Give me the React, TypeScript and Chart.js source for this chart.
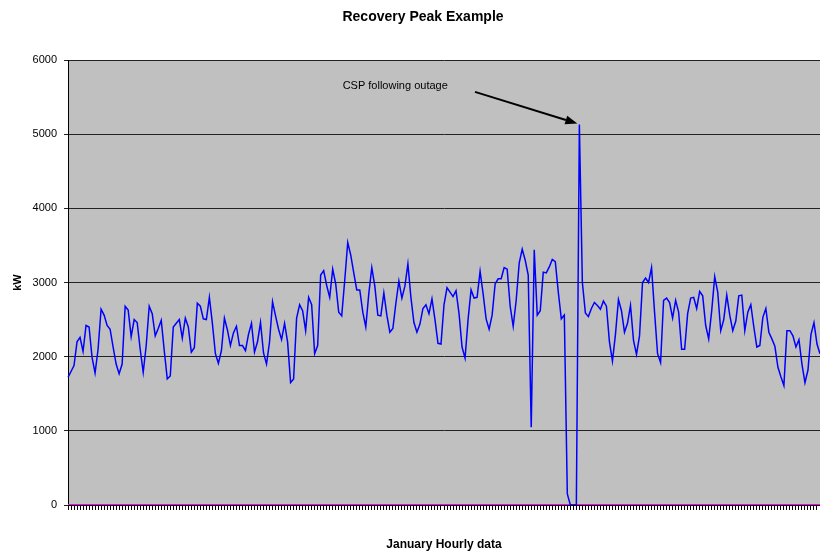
import React, { useEffect, useRef } from "react";
import { Chart, registerables } from "chart.js";

Chart.register(...registerables);

const TITLE = "Recovery Peak Example";
const Y_TITLE = "kW";
const X_TITLE = "January Hourly data";
const ANNOTATION_TEXT = "CSP following outage";

const Y_MIN = 0;
const Y_MAX = 6000;
const Y_STEP = 1000;

// Hourly load (kW), sampled roughly every 3 hours through January
const LOAD_KW = [
  1720, 1800, 1880, 2200, 2260, 2070, 2420, 2400, 1990, 1780,
  2100, 2640, 2560, 2420, 2370, 2130, 1900, 1770, 1900, 2680,
  2630, 2270, 2500, 2460, 2100, 1790, 2150, 2680, 2580, 2280,
  2380, 2490, 2080, 1700, 1740, 2400, 2450, 2500, 2250, 2520,
  2400, 2060, 2120, 2720, 2680, 2510, 2500, 2800, 2450, 2040,
  1910, 2080, 2520, 2360, 2150, 2320, 2410, 2150, 2150, 2080,
  2300, 2450, 2060,
  2200, 2460, 2050, 1900, 2200, 2740, 2550, 2370, 2230, 2450,
  2200, 1650, 1700, 2520, 2700, 2620, 2350, 2800, 2700, 2040,
  2150, 3100, 3160, 2960, 2800, 3180, 2980, 2600, 2550, 3030,
  3540, 3370, 3130, 2900, 2900, 2600, 2400, 2850, 3200, 2950,
  2560, 2550, 2860, 2560, 2330, 2380, 2720, 3020, 2790, 2950,
  3250, 2800, 2460, 2330, 2440, 2650, 2700, 2580, 2780, 2500,
  2180, 2170, 2700,
  2930, 2870, 2810, 2890, 2580, 2130, 1980, 2500, 2900, 2790,
  2800, 3150, 2850, 2510, 2370, 2560, 2980, 3050, 3050, 3200,
  3180, 2680, 2410, 2760, 3260, 3450, 3300, 3100, 1050, 3440,
  2560, 2620, 3140, 3130, 3210, 3310, 3280, 2870, 2510, 2560,
  150, 0, 0, 0, 5130, 3000, 2590, 2540, 2650, 2730,
  2690, 2640, 2750, 2680, 2200, 1940, 2300, 2770, 2620, 2330,
  2450, 2690, 2220,
  2030, 2280, 3000, 3060, 3000, 3200, 2600, 2040, 1920, 2760,
  2790, 2730, 2520, 2760, 2600, 2100, 2100, 2580, 2790, 2800,
  2650, 2880, 2820, 2420, 2240, 2620, 3080, 2870, 2350, 2500,
  2830, 2560, 2350, 2480, 2820, 2830, 2350, 2600, 2700, 2400,
  2130, 2150, 2530, 2650, 2330, 2240, 2140, 1860, 1730, 1610,
  2350, 2350, 2280, 2130, 2230, 1900, 1650, 1820, 2300, 2460,
  2170, 2040,
];

// Second series drawn along the zero line
const OUTAGE_KW = [
  0,0,0,0,0,0,0,0,0,0,0,0,0,0,0,0,0,0,0,0,0,0,0,0,0,0,0,0,0,0,0,0,0,0,0,0,0,0,0,0,0,0,
  0,0,0,0,0,0,0,0,0,0,0,0,0,0,0,0,0,0,0,0,0,0,0,0,0,0,0,0,0,0,0,0,0,0,0,0,0,0,0,0,0,0,
  0,0,0,0,0,0,0,0,0,0,0,0,0,0,0,0,0,0,0,0,0,0,0,0,0,0,0,0,0,0,0,0,0,0,0,0,0,0,0,0,0,0,
  0,0,0,0,0,0,0,0,0,0,0,0,0,0,0,0,0,0,0,0,0,0,0,0,0,0,0,0,0,0,0,0,0,0,0,0,0,0,0,0,0,0,
  0,0,0,0,0,0,0,0,0,0,0,0,0,0,0,0,0,0,0,0,0,0,0,0,0,0,0,0,0,0,0,0,0,0,0,0,0,0,0,0,0,0,
  0,0,0,0,0,0,0,0,0,0,0,0,0,0,0,0,0,0,0,0,0,0,0,0,0,0,0,0,0,0,0,0,0,0,0,0,0,0,0,0,0,0,
];

// Category labels (sample index of the hourly record)
const HOURS = LOAD_KW.map((_, i) => String(i + 1));

// Annotation anchors, in data units (category index, kW)
const PEAK_INDEX = 170;
const ARROW_FROM_INDEX = 135.3;
const ARROW_FROM_KW = 5570;
const LABEL_INDEX = 91.3;
const LABEL_KW = 5655;

const FONT = '"Liberation Sans", Arial, Helvetica, sans-serif';

export default function App() {
  const ref = useRef<HTMLCanvasElement>(null);

  useEffect(() => {
    const canvas = ref.current;
    if (!canvas) return;

    const plotBg = {
      id: "plotBg",
      beforeDraw(chart: any) {
        const { ctx, chartArea: a } = chart;
        ctx.save();
        ctx.fillStyle = "#C0C0C0";
        ctx.fillRect(a.left, a.top, a.right - a.left, a.bottom - a.top);
        ctx.restore();
      },
    };

    const overlay = {
      id: "overlay",
      afterDraw(chart: any) {
        const { ctx } = chart;
        const xs = chart.scales.x;
        const ys = chart.scales.y;
        ctx.save();
        // title
        ctx.fillStyle = "#000";
        ctx.font = `bold 14px ${FONT}`;
        ctx.textAlign = "center";
        ctx.textBaseline = "middle";
        ctx.fillText(TITLE, 423, 17);

        // annotation text
        ctx.font = `11px ${FONT}`;
        ctx.textAlign = "left";
        ctx.fillText(
          ANNOTATION_TEXT,
          xs.getPixelForValue(LABEL_INDEX),
          ys.getPixelForValue(LABEL_KW)
        );

        // arrow
        const sx = xs.getPixelForValue(ARROW_FROM_INDEX);
        const sy = ys.getPixelForValue(ARROW_FROM_KW);
        const tx = xs.getPixelForValue(PEAK_INDEX) - 2;
        const ty = ys.getPixelForValue(LOAD_KW[PEAK_INDEX]) - 1;
        const ang = Math.atan2(ty - sy, tx - sx);
        const headLen = 12;
        const headHalf = 4.5;
        const bx = tx - headLen * Math.cos(ang);
        const by = ty - headLen * Math.sin(ang);
        ctx.strokeStyle = "#000";
        ctx.lineWidth = 2;
        ctx.beginPath();
        ctx.moveTo(sx, sy);
        ctx.lineTo(bx, by);
        ctx.stroke();
        ctx.beginPath();
        ctx.moveTo(tx, ty);
        ctx.lineTo(bx + headHalf * Math.sin(ang), by - headHalf * Math.cos(ang));
        ctx.lineTo(bx - headHalf * Math.sin(ang), by + headHalf * Math.cos(ang));
        ctx.closePath();
        ctx.fill();
        ctx.restore();
      },
    };

    const chart = new Chart(canvas, {
      type: "line",
      data: {
        labels: HOURS,
        datasets: [
          {
            label: "Load",
            data: LOAD_KW,
            borderColor: "#0000FF",
            backgroundColor: "#0000FF",
            borderWidth: 1.5,
            pointRadius: 0,
            tension: 0,
            fill: false,
          },
          {
            label: "Outage",
            data: OUTAGE_KW,
            borderColor: "#FF00FF",
            backgroundColor: "#FF00FF",
            borderWidth: 2,
            pointRadius: 0,
            tension: 0,
            fill: false,
          },
        ],
      },
      options: {
        animation: false,
        responsive: false,
        maintainAspectRatio: false,
        devicePixelRatio: 1,
        layout: { padding: { top: 60, left: 0, right: 0, bottom: 0 } },
        plugins: {
          legend: { display: false },
          title: { display: false },
          tooltip: { enabled: false },
        },
        scales: {
          x: {
            type: "category",
            offset: false,
            grid: {
              display: true,
              drawOnChartArea: false,
              drawTicks: true,
              tickLength: 5,
              color: "#000",
              lineWidth: 1,
            },
            border: { display: true, color: "#000", width: 1 },
            ticks: { display: false, autoSkip: false },
            title: {
              display: true,
              text: X_TITLE,
              color: "#000",
              font: { family: FONT, size: 12, weight: "bold" },
              padding: { top: 0, bottom: 0 },
            },
            afterFit(scale: any) {
              scale.height = 47;
            },
          },
          y: {
            min: Y_MIN,
            max: Y_MAX,
            grid: {
              color: "#222",
              lineWidth: 1,
              drawTicks: true,
              tickLength: 4,
            },
            border: { display: true, color: "#000", width: 1 },
            ticks: {
              stepSize: Y_STEP,
              color: "#000",
              padding: 7,
              font: { family: FONT, size: 11 },
              callback: (v: any) => String(v),
            },
            title: {
              display: true,
              text: Y_TITLE,
              color: "#000",
              font: { family: FONT, size: 11, weight: "bold" },
              padding: { top: 11, bottom: 0 },
            },
            afterFit(scale: any) {
              scale.width = 68;
            },
          },
        },
      },
      plugins: [plotBg, overlay],
    });

    return () => chart.destroy();
  }, []);

  return (
    <div
      style={{
        position: "fixed",
        left: 0,
        top: 0,
        width: 820,
        height: 552,
        background: "#fff",
      }}
    >
      <canvas
        ref={ref}
        width={820}
        height={552}
        style={{ display: "block", width: 820, height: 552 }}
      />
    </div>
  );
}
